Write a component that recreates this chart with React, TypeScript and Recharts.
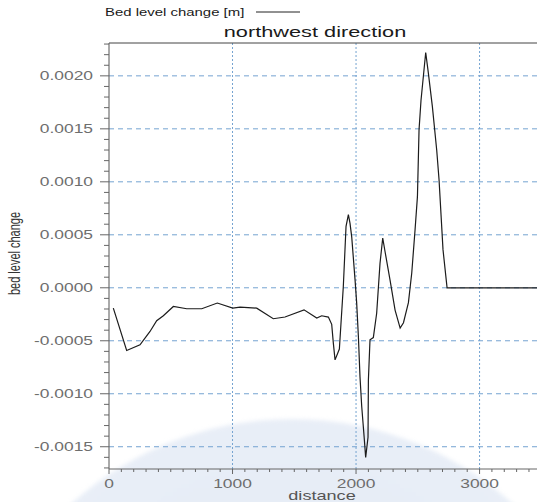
import React from 'react';
import { LineChart, Line, XAxis, YAxis, ReferenceLine } from 'recharts';

// Bed level change profile along the northwest transect
const DISTANCE = [
  35, 143, 251, 332, 386, 440, 521, 629, 751, 877, 1002, 1061, 1196, 1330, 1425,
  1579, 1682, 1722, 1776, 1803, 1816, 1830, 1865, 1897, 1919, 1938, 1951, 1965,
  1992, 2005, 2019, 2032, 2046, 2067, 2078, 2097, 2100, 2113, 2140, 2167, 2194,
  2216, 2235, 2275, 2316, 2357, 2384, 2424, 2451, 2478, 2497, 2510, 2526, 2564,
  2585, 2618, 2653, 2672, 2704, 2737, 3465,
];
const BED_LEVEL_CHANGE = [
  -0.000192, -0.000592, -0.000538, -0.000412, -0.000311, -0.000264, -0.000176,
  -0.000198, -0.000198, -0.000144, -0.000192, -0.000182, -0.000192, -0.000292,
  -0.000276, -0.000208, -0.000286, -0.000264, -0.000276, -0.000345, -0.00052,
  -0.00068, -0.000578, 0.000012, 0.00058, 0.00069, 0.00061, 0.00048, 0.000075,
  -0.00014, -0.00046, -0.00084, -0.00112, -0.00143, -0.0016, -0.00141, -0.00087,
  -0.00049, -0.00047, -0.00024, 0.00023, 0.00047, 0.00034, 0.000075, -0.00021,
  -0.00038, -0.00033, -0.00014, 0.00014, 0.00055, 0.00086, 0.00149, 0.00177,
  0.00222, 0.00203, 0.00171, 0.0013, 0.00102, 0.00036, 0, 0,
];

const X_MAJOR_TICKS = [0, 1000, 2000, 3000];
const X_GRID = [1000, 2000, 3000];
const Y_MAJOR_TICKS = [-0.0015, -0.001, -0.0005, 0, 0.0005, 0.001, 0.0015, 0.002];
const X_DOMAIN: [number, number] = [0, 3465];
const Y_DOMAIN: [number, number] = [-0.00171, 0.00231];

const TITLE = 'northwest direction';
const SERIES_NAME = 'Bed level change [m]';
const X_LABEL = 'distance';
const Y_LABEL = 'bed level change';

// minor tick marks every 100 m and every 0.0001 m
const X_MINOR_TICKS = Array.from({ length: 35 }, (_, i) => i * 100);
const Y_MINOR_TICKS = Array.from({ length: 41 }, (_, i) => (i - 17) / 10000);

const rows = DISTANCE.map((d, i) => ({ distance: d, change: BED_LEVEL_CHANGE[i] }));

const FONT = '"Liberation Sans", Arial, sans-serif';
const STRETCH = 1.45;
const GRID_BLUE = '#74a3d1';
const AXIS_GREY = '#666666';
const Y_TICK_LEN = 5;
const X_TICK_LEN = 3;

const isMajor = (v: number, majors: number[]) => majors.some((m) => Math.abs(m - v) < 1e-9);

// Left axis label; x arrives at the outer end of the minor tick mark
function YTick(props: any) {
  const { x, y, payload } = props;
  if (!isMajor(payload.value, Y_MAJOR_TICKS)) return <g />;
  return (
    <g>
      <path d={`M${x - 4},${y}H${x}`} stroke={AXIS_GREY} strokeWidth={1} fill="none" />
      <text
        transform={`translate(${x - 11},${y + 4.3}) scale(${STRETCH},1)`}
        textAnchor="end"
        fontSize={12}
        fill="#6e6e6e"
        fontFamily={FONT}
      >
        {payload.value.toFixed(4)}
      </text>
    </g>
  );
}

// Bottom axis label; y arrives at the lower end of the minor tick mark
function XTick(props: any) {
  const { x, y, payload } = props;
  if (!isMajor(payload.value, X_MAJOR_TICKS)) return <g />;
  return (
    <g>
      <path d={`M${x},${y}V${y + 2}`} stroke={AXIS_GREY} strokeWidth={1} fill="none" />
      <text
        transform={`translate(${x},${y + 15.5}) scale(${STRETCH},1)`}
        textAnchor="middle"
        fontSize={12}
        fill="#6e6e6e"
        fontFamily={FONT}
      >
        {String(payload.value)}
      </text>
    </g>
  );
}

export default function App() {
  return (
    <div
      style={{
        position: 'absolute',
        left: 0,
        top: 0,
        width: 537,
        height: 502,
        overflow: 'hidden',
        background: '#ffffff',
      }}
    >
      {/* pale backdrop disc */}
      <div
        style={{
          position: 'absolute',
          left: 292 - 330,
          top: 749 - 330,
          width: 660,
          height: 660,
          borderRadius: '50%',
          background: 'radial-gradient(circle at 50% 45%, #e2e9f4 0%, #e8eef7 55%, #eef2f9 100%)',
          filter: 'blur(2px)',
        }}
      />
      <div style={{ position: 'absolute', left: 0, top: 0 }}>
        <LineChart
          width={537}
          height={502}
          data={rows}
          margin={{ top: 43, right: 0, bottom: 0, left: 0 }}
        >
          <XAxis
            dataKey="distance"
            type="number"
            domain={X_DOMAIN}
            allowDataOverflow
            ticks={X_MINOR_TICKS}
            interval={0}
            height={33}
            tickSize={X_TICK_LEN}
            tickMargin={0}
            tickLine={{ stroke: AXIS_GREY }}
            axisLine={{ stroke: AXIS_GREY }}
            tick={<XTick />}
          />
          <YAxis
            type="number"
            domain={Y_DOMAIN}
            allowDataOverflow
            ticks={Y_MINOR_TICKS}
            interval={0}
            width={109}
            tickSize={Y_TICK_LEN}
            tickMargin={0}
            tickLine={{ stroke: AXIS_GREY }}
            axisLine={{ stroke: '#555555' }}
            tick={<YTick />}
          />
          {Y_MAJOR_TICKS.map((v) => (
            <ReferenceLine key={`h${v}`} y={v} stroke={GRID_BLUE} strokeDasharray="5 4" strokeWidth={1} />
          ))}
          {X_GRID.map((v) => (
            <ReferenceLine key={`v${v}`} x={v} stroke={GRID_BLUE} strokeDasharray="2 2" strokeWidth={1} />
          ))}
          <ReferenceLine y={Y_DOMAIN[1]} stroke="#444444" strokeWidth={1} />
          <Line
            type="linear"
            dataKey="change"
            stroke="#1c1c1c"
            strokeWidth={1.2}
            dot={false}
            isAnimationActive={false}
          />
        </LineChart>
      </div>
      <svg
        width={537}
        height={502}
        style={{ position: 'absolute', left: 0, top: 0, pointerEvents: 'none' }}
      >
        <text
          transform={`translate(105,15.7) scale(${STRETCH},1)`}
          fontSize={10.3}
          fill="#1a1a1a"
          fontFamily={FONT}
        >
          {SERIES_NAME}
        </text>
        <line x1={256} x2={300} y1={12} y2={12} stroke="#222222" strokeWidth={1} />
        <text
          transform={`translate(315,37) scale(${STRETCH},1)`}
          textAnchor="middle"
          fontSize={15}
          fill="#1a1a1a"
          fontFamily={FONT}
        >
          {TITLE}
        </text>
        <text
          transform={`translate(322,500) scale(${STRETCH},1)`}
          textAnchor="middle"
          fontSize={12.5}
          fill="#555555"
          fontFamily={FONT}
        >
          {X_LABEL}
        </text>
        <text
          transform={`translate(19.5,253.5) scale(${STRETCH},1) rotate(-90)`}
          textAnchor="middle"
          fontSize={11}
          fill="#333333"
          fontFamily={FONT}
        >
          {Y_LABEL}
        </text>
      </svg>
    </div>
  );
}
